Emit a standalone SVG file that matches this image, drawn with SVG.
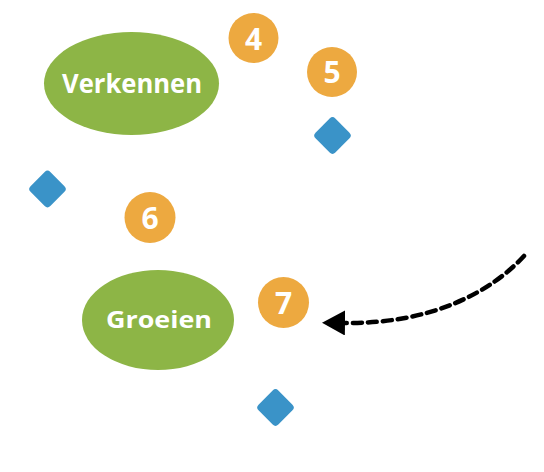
<svg xmlns="http://www.w3.org/2000/svg" width="544" height="472" viewBox="0 0 544 472">
<defs>
<style>
.phase{fill:#8db546}
.phase-t{fill:#fff;font-family:"Open Sans",Lato,sans-serif;font-weight:bold;text-anchor:middle}
.num{fill:#eda940}
.num-t{fill:#fff;font-family:"Open Sans",Lato,sans-serif;font-weight:bold;font-size:30px;text-anchor:middle}
.dia{fill:#3a93c8}
.conn{fill:none;stroke:#000;stroke-width:4.5;stroke-dasharray:9 6;stroke-linecap:round}
</style>
<marker id="ah" viewBox="0 0 23 25" refX="0" refY="12.5" markerWidth="23" markerHeight="25" markerUnits="userSpaceOnUse" orient="auto">
<path d="M0,0 L23,12.5 L0,25 z" fill="#000"/>
</marker>
<rect id="d" x="-14" y="-14" width="28" height="28" rx="4" transform="rotate(45)"/>
</defs>
<g id="verkennen"><ellipse class="phase" cx="131.5" cy="83.5" rx="87.5" ry="51.5"/><text class="phase-t" x="132" y="93" font-size="27" textLength="140" lengthAdjust="spacingAndGlyphs">Verkennen</text></g>
<g id="groeien"><ellipse class="phase" cx="158" cy="320" rx="76" ry="50"/><text class="phase-t" x="159" y="328" font-size="24" textLength="106" lengthAdjust="spacingAndGlyphs">Groeien</text></g>
<g id="n4"><circle class="num" cx="253.5" cy="38" r="25"/><text class="num-t" x="253.5" y="50">4</text></g>
<g id="n5"><circle class="num" cx="332" cy="72" r="25"/><text class="num-t" x="332" y="83">5</text></g>
<g id="n6"><circle class="num" cx="150" cy="217.5" r="25.5"/><text class="num-t" x="150" y="228.5">6</text></g>
<g id="n7"><circle class="num" cx="283.5" cy="302.5" r="25.5"/><text class="num-t" x="283.5" y="313.5">7</text></g>
<g id="d1"><use href="#d" class="dia" transform="translate(332.5,135.5)"/></g>
<g id="d2"><use href="#d" class="dia" transform="translate(47.5,189)"/></g>
<g id="d3"><use href="#d" class="dia" transform="translate(275.5,407.5)"/></g>
<g id="connectors">
<path class="conn" d="M524,256 C490,293 430,324 345,323" marker-end="url(#ah)"/>
</g>
</svg>
